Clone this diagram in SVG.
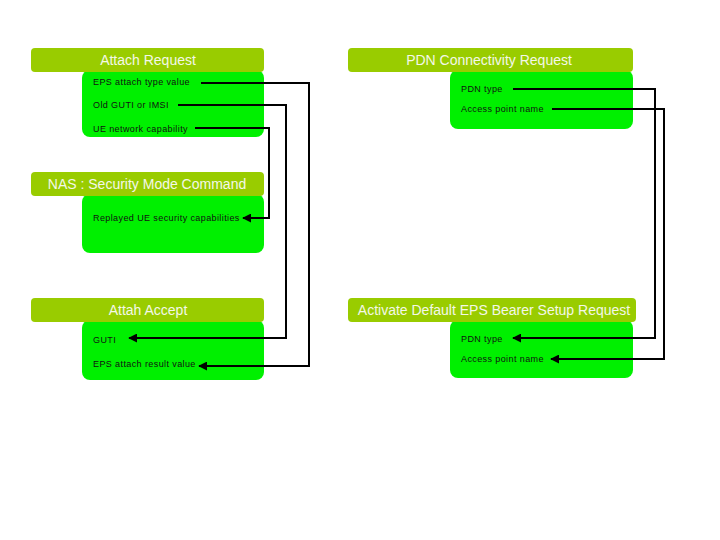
<svg xmlns="http://www.w3.org/2000/svg" width="720" height="540" viewBox="0 0 720 540">
<style>
.hdr{fill:#99cc00}
.body{fill:#00f000}
.ht{font-family:"Liberation Sans",Arial,sans-serif;font-size:14px;fill:#f4f8e8;text-anchor:middle}
.bt{font-family:"Liberation Sans",Arial,sans-serif;font-size:9px;letter-spacing:0.4px;fill:#111}
.c{fill:none;stroke:#000;stroke-width:2}
</style>
<defs>
<marker id="ah" viewBox="0 0 10 10" refX="9" refY="5" markerWidth="4.5" markerHeight="4.5" orient="auto" markerUnits="strokeWidth">
<path d="M0,0 L10,5 L0,10 z" fill="#000"/>
</marker>
</defs>
<rect width="720" height="540" fill="#fff"/>
<g id="attach-request">
<rect class="body" x="82" y="70" width="182" height="67" rx="8"/>
<rect class="hdr" x="31" y="48" width="233" height="24" rx="4"/>
<text class="ht" x="148" y="65">Attach Request</text>
<text class="bt" x="93" y="85">EPS attach type value</text>
<text class="bt" x="93" y="108">Old GUTI or IMSI</text>
<text class="bt" x="93" y="132">UE network capability</text>
</g>
<g id="pdn-connectivity-request">
<rect class="body" x="450" y="70" width="183" height="59" rx="8"/>
<rect class="hdr" x="348" y="48" width="285" height="24" rx="4"/>
<text class="ht" x="489" y="65">PDN Connectivity Request</text>
<text class="bt" x="461" y="92">PDN type</text>
<text class="bt" x="461" y="112">Access point name</text>
</g>
<g id="nas-security-mode-command">
<rect class="body" x="82" y="194" width="182" height="59" rx="8"/>
<rect class="hdr" x="31" y="172" width="233" height="24" rx="4"/>
<text class="ht" x="147" y="189">NAS : Security Mode Command</text>
<text class="bt" x="93" y="221">Replayed UE security capabilities</text>
</g>
<g id="attach-accept">
<rect class="body" x="82" y="320" width="182" height="60" rx="8"/>
<rect class="hdr" x="31" y="298" width="233" height="24" rx="4"/>
<text class="ht" x="148" y="315">Attah Accept</text>
<text class="bt" x="93" y="343">GUTI</text>
<text class="bt" x="93" y="367">EPS attach result value</text>
</g>
<g id="activate-default-eps-bearer">
<rect class="body" x="450" y="320" width="183" height="58" rx="8"/>
<rect class="hdr" x="348" y="298" width="288" height="24" rx="4"/>
<text class="ht" x="494" y="315">Activate Default EPS Bearer Setup Request</text>
<text class="bt" x="461" y="342">PDN type</text>
<text class="bt" x="461" y="362">Access point name</text>
</g>
<g id="connectors">
<polyline class="c" points="201,83 309,83 309,366 199,366" marker-end="url(#ah)"/>
<polyline class="c" points="178,105 286,105 286,338 129,338" marker-end="url(#ah)"/>
<polyline class="c" points="195,128 269,128 269,218 243,218" marker-end="url(#ah)"/>
<polyline class="c" points="513,89 655,89 655,338 513,338" marker-end="url(#ah)"/>
<polyline class="c" points="552,109 664,109 664,359 551,359" marker-end="url(#ah)"/>
</g>
</svg>
